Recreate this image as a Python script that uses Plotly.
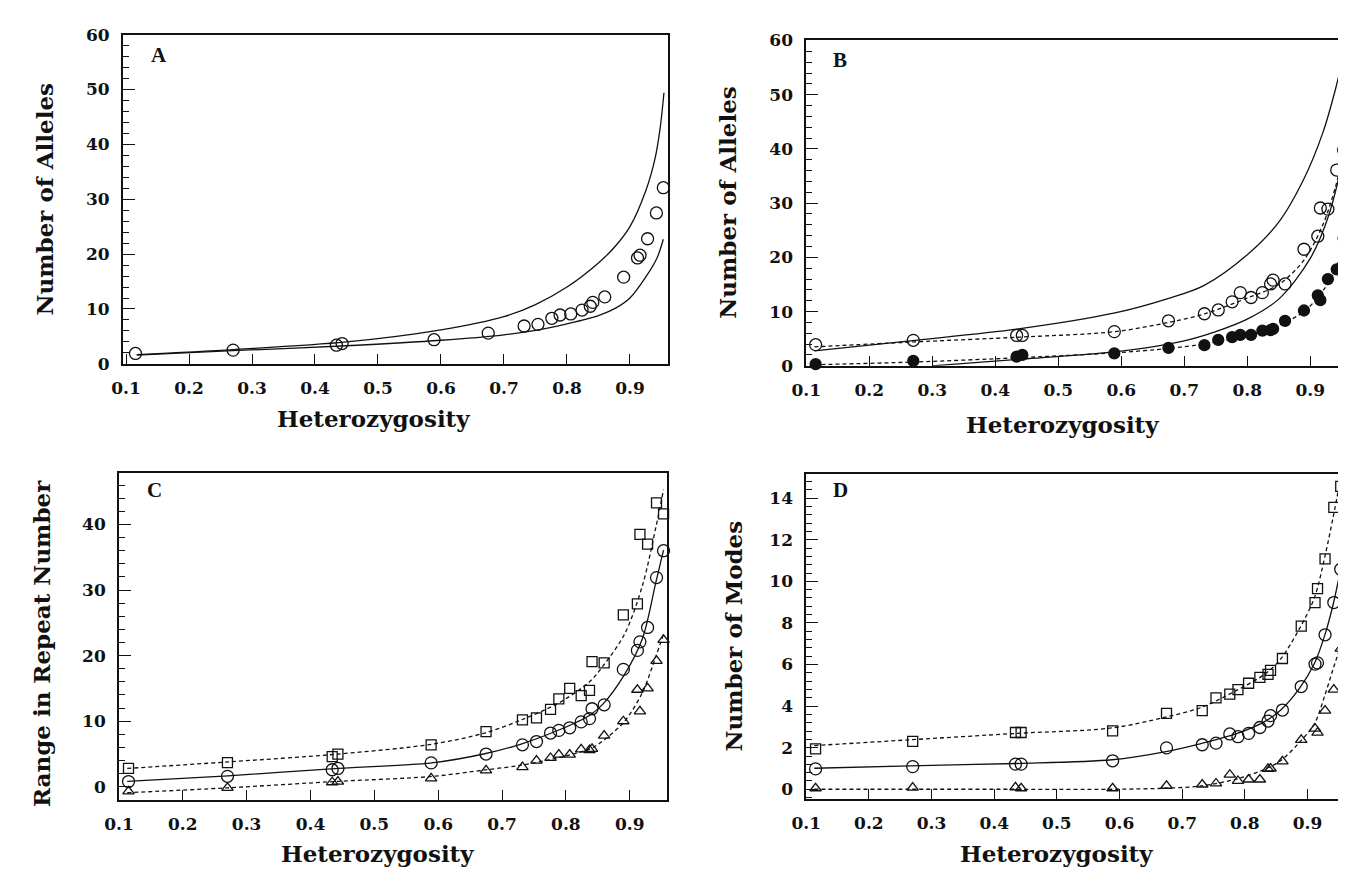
import plotly.graph_objects as go

W, H = 1346, 870

# ---------------- data ----------------
# heterozygosity of the loci (shared x positions)
hx = [0.115, 0.270, 0.434, 0.443, 0.589, 0.675, 0.732, 0.754, 0.776, 0.789, 0.806,
      0.824, 0.837, 0.841, 0.860, 0.890, 0.912, 0.916, 0.928, 0.942, 0.953]

# Panel A: observed number of alleles + two theoretical curves
a_obs = [1.9, 2.5, 3.4, 3.7, 4.4, 5.6, 6.9, 7.2, 8.3, 8.9, 9.1,
         9.8, 10.5, 11.2, 12.2, 15.8, 19.3, 19.8, 22.8, 27.5, 32.1]
a_up_x = [0.117, 0.27, 0.45, 0.6, 0.7, 0.75, 0.8, 0.85, 0.875, 0.9, 0.925, 0.94, 0.948, 0.954]
a_up_y = [1.7, 2.6, 4.0, 6.2, 8.6, 10.8, 14.0, 18.4, 21.2, 25.0, 31.5, 37.5, 43.0, 49.4]
a_lo_x = [0.117, 0.27, 0.45, 0.6, 0.7, 0.75, 0.8, 0.85, 0.878, 0.9, 0.925, 0.943, 0.953]
a_lo_y = [1.6, 2.4, 3.3, 4.3, 5.3, 6.1, 7.3, 8.8, 10.2, 12.0, 15.8, 19.3, 22.7]

# Panel B
b_open = [3.9, 4.7, 5.6, 5.6, 6.3, 8.3, 9.6, 10.3, 11.8, 13.5, 12.6,
          13.5, 15.1, 15.8, 15.1, 21.5, 23.9, 29.1, 28.9, 36.1, 39.8]
b_fill = [0.3, 0.9, 1.7, 2.0, 2.3, 3.3, 3.8, 4.8, 5.3, 5.7, 5.7,
          6.5, 6.6, 6.8, 8.3, 10.2, 13.0, 12.1, 16.0, 17.8, 23.5]
b_up_x = [0.113, 0.269, 0.434, 0.590, 0.674, 0.731, 0.8, 0.85, 0.89, 0.92, 0.94, 0.955]
b_up_y = [2.75, 4.66, 6.76, 9.75, 12.4, 14.8, 20.5, 26.5, 34.5, 43.0, 51.0, 58.5]
b_lo_x = [0.30, 0.45, 0.6, 0.7, 0.75, 0.8, 0.85, 0.9, 0.93, 0.954]
b_lo_y = [0.0, 1.3, 2.7, 4.6, 6.3, 8.6, 12.3, 19.8, 28.0, 39.2]
b_fit_x = [0.113, 0.27, 0.44, 0.59, 0.675, 0.73, 0.8, 0.85, 0.89, 0.92, 0.94, 0.953]
b_fit_open = [3.5, 4.4, 5.3, 6.3, 8.0, 9.5, 12.5, 15.0, 19.5, 26.0, 33.0, 39.5]
b_fit_fill = [0.2, 0.7, 1.5, 2.4, 3.2, 4.0, 5.6, 7.5, 10.0, 13.8, 17.8, 23.0]

# Panel C: range in repeat number
c_sq = [2.8, 3.7, 4.6, 5.0, 6.4, 8.4, 10.2, 10.5, 11.8, 13.4, 15.0,
        13.9, 14.7, 19.1, 18.9, 26.2, 27.9, 38.5, 37.0, 43.3, 41.6]
c_ci = [0.8, 1.6, 2.6, 2.8, 3.65, 5.0, 6.4, 6.9, 8.2, 8.6, 9.0,
        9.9, 10.4, 11.9, 12.5, 17.9, 20.8, 22.1, 24.3, 31.9, 36.0]
c_tr = [-0.7, -0.15, 0.7, 0.8, 1.3, 2.5, 3.0, 4.0, 4.4, 4.9, 4.9,
        5.7, 5.6, 5.8, 7.8, 10.0, 14.8, 11.5, 15.0, 19.2, 22.4]
c_fit_x = [0.113, 0.271, 0.444, 0.590, 0.673, 0.730, 0.791, 0.838, 0.858, 0.892, 0.920, 0.941, 0.953]
c_fit_ci = [0.84, 1.68, 2.81, 3.65, 5.04, 6.52, 8.74, 10.96, 12.6, 17.14, 22.6, 31.2, 36.1]
c_fit_sq = [2.8, 3.8, 5.0, 6.5, 8.2, 10.2, 12.9, 16.1, 18.4, 23.3, 30.7, 39.6, 45.3]
c_fit_tr = [-0.9, -0.15, 0.84, 1.58, 2.57, 3.3, 4.5, 5.8, 7.0, 10.0, 14.4, 19.9, 23.3]

# Panel D: number of modes
d_sq = [1.94, 2.3, 2.73, 2.73, 2.81, 3.65, 3.78, 4.40, 4.58, 4.79, 5.10,
        5.38, 5.53, 5.72, 6.29, 7.85, 8.98, 9.65, 11.08, 13.56, 14.57]
d_ci = [0.98, 1.09, 1.21, 1.21, 1.37, 1.99, 2.14, 2.22, 2.66, 2.53, 2.69,
        2.97, 3.28, 3.54, 3.81, 4.94, 6.02, 6.08, 7.43, 8.98, 10.58]
d_tr = [0.05, 0.08, 0.09, 0.05, 0.05, 0.17, 0.23, 0.28, 0.70, 0.40, 0.47,
        0.47, 0.98, 1.0, 1.34, 2.38, 2.92, 2.72, 3.78, 4.79, 6.76]
d_fit_x = [0.113, 0.266, 0.437, 0.588, 0.672, 0.730, 0.789, 0.833, 0.857, 0.886, 0.911, 0.928, 0.941, 0.953]
d_fit_ci = [1.01, 1.13, 1.24, 1.42, 1.80, 2.20, 2.70, 3.28, 3.80, 4.80, 6.05, 7.45, 8.90, 10.6]
d_fit_sq = [2.10, 2.38, 2.69, 2.95, 3.46, 3.93, 4.79, 5.56, 6.26, 7.66, 9.21, 11.23, 13.1, 15.0]
d_fit_tr = [0.0, 0.0, 0.0, 0.0, 0.05, 0.16, 0.51, 0.98, 1.37, 2.22, 3.15, 4.55, 5.80, 6.9]

x_ticks = [0.1, 0.2, 0.3, 0.4, 0.5, 0.6, 0.7, 0.8, 0.9]
x_title = "Heterozygosity"
y_titles = ["Number of Alleles", "Number of Alleles", "Range in Repeat Number", "Number of Modes"]
panel_letters = ["A", "B", "C", "D"]

# ---------------- layout geometry (pixels) ----------------
boxes = {  # left, right, top, bottom
    1: (101, 652, 17, 354),
    2: (792, 1340, 23, 356),
    3: (97, 651, 466, 800),
    4: (792, 1337, 467, 799),
}
xranges = {1: [0.095, 0.960], 2: [0.100, 0.960], 3: [0.100, 0.958], 4: [0.100, 0.960]}
yranges = {1: [0, 60], 2: [0, 60], 3: [-1.95, 47.8], 4: [-0.45, 15.15]}
ytickvals = {1: list(range(0, 61, 10)), 2: list(range(0, 61, 10)),
             3: list(range(0, 41, 10)), 4: list(range(0, 15, 2))}
yminor = {1: 2, 2: 2, 3: 2, 4: 0.4}

FONT = "DejaVu Serif"
BLACK = "#111111"

fig = go.Figure()

def ax(n):
    return ("x" if n == 1 else f"x{n}"), ("y" if n == 1 else f"y{n}")

def line(n, xs, ys, dash="solid"):
    xa, ya = ax(n)
    fig.add_trace(go.Scatter(x=xs, y=ys, mode="lines", xaxis=xa, yaxis=ya,
                             line=dict(color=BLACK, width=1.3, dash=dash, shape="spline", smoothing=0.9),
                             hoverinfo="skip", showlegend=False))

def pts(n, xs, ys, symbol, size):
    xa, ya = ax(n)
    fig.add_trace(go.Scatter(x=xs, y=ys, mode="markers", xaxis=xa, yaxis=ya, cliponaxis=False,
                             marker=dict(symbol=symbol, size=size, color=BLACK,
                                         line=dict(color=BLACK, width=1.3)),
                             showlegend=False))

DASH = "4px,3px"

# Panel A
line(1, a_up_x, a_up_y)
line(1, a_lo_x, a_lo_y)
pts(1, hx, a_obs, "circle-open", 12)

# Panel B
line(2, b_up_x, b_up_y)
line(2, b_lo_x, b_lo_y)
line(2, b_fit_x, b_fit_open, DASH)
line(2, b_fit_x, b_fit_fill, DASH)
pts(2, hx, b_open, "circle-open", 12)
pts(2, hx, b_fill, "circle", 11)

# Panel C
line(3, c_fit_x, c_fit_sq, DASH)
line(3, c_fit_x, c_fit_ci)
line(3, c_fit_x, c_fit_tr, DASH)
pts(3, hx, c_sq, "square-open", 10)
pts(3, hx, c_ci, "circle-open", 12)
pts(3, hx, c_tr, "triangle-up-open", 10)

# Panel D
line(4, d_fit_x, d_fit_sq, DASH)
line(4, d_fit_x, d_fit_ci)
line(4, d_fit_x, d_fit_tr, DASH)
pts(4, hx, d_sq, "square-open", 10)
pts(4, hx, d_ci, "circle-open", 12)
pts(4, hx, d_tr, "triangle-up-open", 10)

layout = dict(
    width=W, height=H, margin=dict(l=0, r=0, t=0, b=0),
    paper_bgcolor="white", plot_bgcolor="white", showlegend=False,
    font=dict(family=FONT, color=BLACK),
)
tickfont = dict(family=FONT, size=17, color=BLACK, weight="bold")
for n, (l, r, t, b) in boxes.items():
    xa, ya = ax(n)
    xkey = "xaxis" if n == 1 else f"xaxis{n}"
    ykey = "yaxis" if n == 1 else f"yaxis{n}"
    layout[xkey] = dict(
        domain=[l / W, r / W], range=xranges[n], anchor=ya,
        tickvals=x_ticks, ticktext=[f"{v:.1f}" for v in x_ticks],
        ticks="inside", ticklen=10, tickwidth=1.3, tickcolor=BLACK,
        showline=True, linecolor=BLACK, linewidth=1.6, mirror=True,
        showgrid=False, zeroline=False, tickfont=tickfont, ticklabelstandoff=8,
    )
    layout[ykey] = dict(
        domain=[1 - b / H, 1 - t / H], range=yranges[n], anchor=xa,
        tickvals=ytickvals[n], ticks="inside", ticklen=12, tickwidth=1.3, tickcolor=BLACK,
        minor=dict(dtick=yminor[n], ticks="inside", ticklen=6, tickwidth=1, tickcolor=BLACK),
        showline=True, linecolor=BLACK, linewidth=1.6, mirror=True,
        showgrid=False, zeroline=False, tickfont=tickfont, ticklabelstandoff=8,
    )
fig.update_layout(**layout)

# Axis titles and panel letters as annotations
xt_pos = {1: (354, 410), 2: (1051, 416), 3: (358, 855), 4: (1045, 855)}
yt_pos = {1: (22, 186), 2: (713, 189), 3: (18, 640), 4: (718, 632)}
letter_pos = {1: (138, 38), 2: (826, 43), 3: (133, 483), 4: (827, 483)}
for n in range(1, 5):
    x, y = xt_pos[n]
    fig.add_annotation(x=x / W, y=1 - y / H, xref="paper", yref="paper", text=x_title,
                       showarrow=False, xanchor="center", yanchor="middle",
                       font=dict(family=FONT, size=23, color=BLACK, weight="bold"))
    x, y = yt_pos[n]
    fig.add_annotation(x=x / W, y=1 - y / H, xref="paper", yref="paper", text=y_titles[n - 1],
                       showarrow=False, xanchor="center", yanchor="middle", textangle=-90,
                       font=dict(family=FONT, size=23, color=BLACK, weight="bold"))
    x, y = letter_pos[n]
    fig.add_annotation(x=x / W, y=1 - y / H, xref="paper", yref="paper", text=panel_letters[n - 1],
                       showarrow=False, xanchor="center", yanchor="middle",
                       font=dict(family="Liberation Serif", size=21, color=BLACK, weight="bold"))

fig.write_html("out.html")
